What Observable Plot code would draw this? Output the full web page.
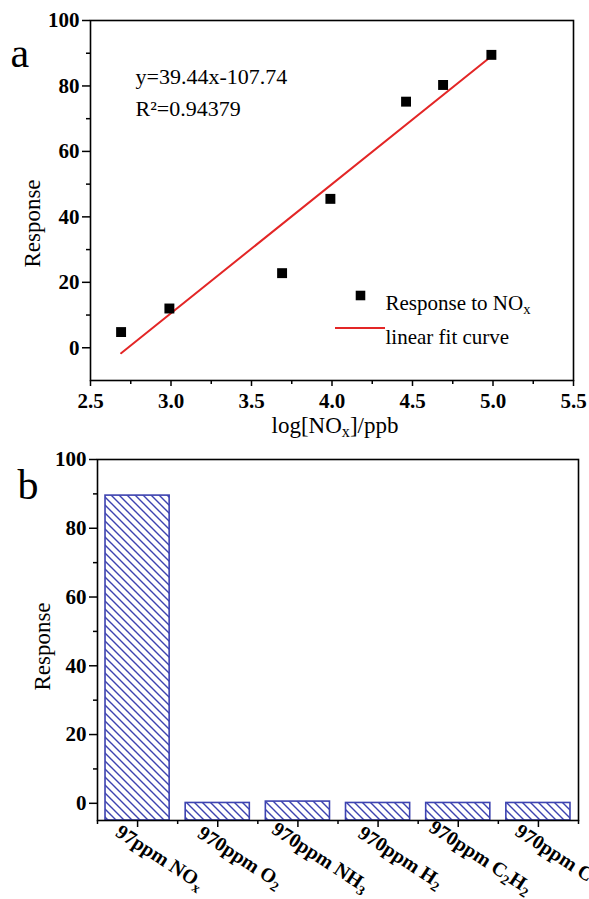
<!DOCTYPE html>
<html><head><meta charset="utf-8">
<script src="https://cdn.jsdelivr.net/npm/d3@7"></script>
<script src="https://cdn.jsdelivr.net/npm/@observablehq/plot@0.6"></script>
<style>
html,body{margin:0;padding:0;background:#fff;overflow:hidden;width:589px;height:899px}
svg{display:block}
</style></head><body>
<svg width="0" height="0" style="position:absolute">
<defs><pattern id="hatch" patternUnits="userSpaceOnUse" width="8" height="8">
<path d="M-2,-2L10,10M-2,6L2,10M6,-2L10,2" stroke="#3d43b0" stroke-width="1.4" fill="none"/>
</pattern></defs></svg>
<div id="chartA"></div><div id="chartB"></div>
<script>
// ---- data: panel a ----
const logNOx = [2.69, 2.99, 3.69, 3.99, 4.46, 4.69, 4.99];
const responseNOx = [4.8, 12.0, 22.8, 45.5, 75.2, 80.3, 89.5];
const fitX = [2.69, 4.99];
const fitY = [-1.65, 89.07];
const xTicksA = [2.5, 3.0, 3.5, 4.0, 4.5, 5.0, 5.5];
const xMinorA = [2.75, 3.25, 3.75, 4.25, 4.75, 5.25];
const yTicksA = [0, 20, 40, 60, 80, 100];
const yMinorA = [10, 30, 50, 70, 90];
const yDomainA = [-10, 100];
const xDomainA = [2.5, 5.5];
const equationText = ["y=39.44x-107.74", "R²=0.94379"];
const legendLabels = ["Response to NOₓ", "linear fit curve"];
const xTitleA = "log[NOₓ]/ppb";
const yTitle = "Response";

// ---- data: panel b ----
const gases = ["97ppm NOₓ", "970ppm O₂", "970ppm NH₃", "970ppm H₂", "970ppm C₂H₂", "970ppm CO"];
const gasResponse = [89.5, 0.1, 0.5, 0.1, 0.1, 0.1];
const yTicksB = [0, 20, 40, 60, 80, 100];
const yMinorB = [10, 30, 50, 70, 90];
const yDomainB = [-5, 100];

const font = "'Liberation Serif', 'Times New Roman', serif";
const red = "#e32626";
const blue = "#3d43b0";
const W = 589;

// ---- panel a ----
const A = {h: 440, ml: 90, mr: 16, mt: 20, mb: 60};
const ptsA = logNOx.map((x, i) => ({x, y: responseNOx[i]}));
const fitA = fitX.map((x, i) => ({x, y: fitY[i]}));
const plotA = Plot.plot({
  width: W, height: A.h, marginLeft: A.ml, marginRight: A.mr, marginTop: A.mt, marginBottom: A.mb,
  style: {fontFamily: font, background: "white", color: "black", overflow: "visible"},
  x: {domain: xDomainA},
  y: {domain: yDomainA},
  marks: [
    Plot.axisX(xTicksA, {tickSize: 6, tickPadding: 7, fontSize: 21, fontWeight: "bold", tickFormat: d3.format(".1f"), strokeWidth: 1.5, label: null}),
    Plot.axisX(xMinorA, {tickSize: 4, tickFormat: () => "", strokeWidth: 1.5, label: null}),
    Plot.axisY(yTicksA, {tickSize: 8, tickPadding: 3, fontSize: 21, fontWeight: "bold", strokeWidth: 1.5, label: null}),
    Plot.axisY(yMinorA, {tickSize: 4, tickFormat: () => "", strokeWidth: 1.5, label: null}),
    Plot.frame({stroke: "black", strokeWidth: 1.6}),
    Plot.line(fitA, {x: "x", y: "y", stroke: red, strokeWidth: 2}),
    Plot.dot(ptsA, {x: "x", y: "y", symbol: "square", r: 5.6, fill: "black"}),
    Plot.text([equationText[0]], {text: d => d, frameAnchor: "top-left", textAnchor: "start", dx: 45, dy: 48, fontSize: 22}),
    Plot.text([equationText[1]], {text: d => d, frameAnchor: "top-left", textAnchor: "start", dx: 45, dy: 80, fontSize: 22}),
    Plot.dot([0], {frameAnchor: "top-left", dx: 270, dy: 275, symbol: "square", r: 5.4, fill: "black"}),
    Plot.text([legendLabels[0]], {text: d => d, frameAnchor: "top-left", textAnchor: "start", dx: 295, dy: 274.6, fontSize: 21}),
    Plot.text([legendLabels[1]], {text: d => d, frameAnchor: "top-left", textAnchor: "start", dx: 295, dy: 308.6, fontSize: 21}),
    Plot.text([xTitleA], {text: d => d, frameAnchor: "bottom", textAnchor: "middle", dx: 3, dy: 52, fontSize: 23}),
    Plot.text([yTitle], {text: d => d, frameAnchor: "left", textAnchor: "middle", rotate: -90, dx: -58, dy: 23, fontSize: 23}),
    Plot.text(["a"], {text: d => d, frameAnchor: "top-left", textAnchor: "start", dx: -80, dy: 16.6, fontSize: 42})
  ]
});
d3.select(plotA).append("line")
  .attr("x1", A.ml + 245).attr("x2", A.ml + 295)
  .attr("y1", A.mt + 308).attr("y2", A.mt + 308)
  .attr("stroke", red).attr("stroke-width", 2);

// ---- panel b ----
const B = {h: 459, ml: 97, mr: 11, mt: 19, mb: 79};
const pIn = 0.2, pOut = 0.1;
const step = (W - B.ml - B.mr) / (gases.length - pIn + 2 * pOut);
const barsB = gases.map((g, i) => ({gas: g, v: gasResponse[i]}));
const plotB = Plot.plot({
  width: W, height: B.h, marginLeft: B.ml, marginRight: B.mr, marginTop: B.mt, marginBottom: B.mb,
  style: {fontFamily: font, background: "white", color: "black", overflow: "visible"},
  x: {domain: gases, paddingInner: pIn, paddingOuter: pOut, round: false},
  y: {domain: yDomainB},
  marks: [
    Plot.barY(barsB, {x: "gas", y1: yDomainB[0], y2: "v", fill: "url(#hatch)", stroke: blue, strokeWidth: 1.6}),
    Plot.axisX(gases, {tickSize: 7, tickFormat: () => "", strokeWidth: 1.5, label: null}),
    Plot.axisX(gases, {tickSize: 4, tickFormat: () => "", strokeWidth: 1.5, label: null, dx: -step / 2}),
    Plot.axisX([gases[gases.length - 1]], {tickSize: 4, tickFormat: () => "", strokeWidth: 1.5, label: null, dx: step / 2}),
    Plot.axisY(yTicksB, {tickSize: 8, tickPadding: 3, fontSize: 21, fontWeight: "bold", strokeWidth: 1.5, label: null}),
    Plot.axisY(yMinorB, {tickSize: 4, tickFormat: () => "", strokeWidth: 1.5, label: null}),
    Plot.frame({stroke: "black", strokeWidth: 1.6}),
    Plot.text(gases, {x: d => d, text: d => d, frameAnchor: "bottom", textAnchor: "middle", dx: 19, dy: 42, rotate: 33, fontSize: 20, fontWeight: "bold"}),
    Plot.text([yTitle], {text: d => d, frameAnchor: "left", textAnchor: "middle", rotate: -90, dx: -55, dy: 6.5, fontSize: 23}),
    Plot.text(["b"], {text: d => d, frameAnchor: "top-left", textAnchor: "start", dx: -80, dy: 9.6, fontSize: 42})
  ]
});

// convert unicode subscripts into real subscript tspans
const SUB = {"ₓ": "x", "₂": "2", "₃": "3"};
function subify(svg) {
  svg.querySelectorAll("text").forEach(t => {
    if (t.querySelector("tspan")) return;
    const s = t.textContent;
    if (![...s].some(c => SUB[c])) return;
    const segs = [];
    for (const c of s) {
      const sub = !!SUB[c];
      const ch = sub ? SUB[c] : c;
      if (segs.length && segs[segs.length - 1].sub === sub) segs[segs.length - 1].text += ch;
      else segs.push({text: ch, sub});
    }
    t.textContent = "";
    const ns = "http://www.w3.org/2000/svg";
    let shifted = false;
    for (const seg of segs) {
      const ts = document.createElementNS(ns, "tspan");
      ts.textContent = seg.text;
      if (seg.sub) {
        ts.setAttribute("font-size", "70%");
        ts.setAttribute("dy", "0.3em");
        shifted = true;
      } else if (shifted) {
        ts.setAttribute("dy", "-0.21em");
        shifted = false;
      }
      t.appendChild(ts);
    }
  });
}
subify(plotA);
subify(plotB);
document.getElementById("chartA").appendChild(plotA);
document.getElementById("chartB").appendChild(plotB);
</script>
</body></html>
